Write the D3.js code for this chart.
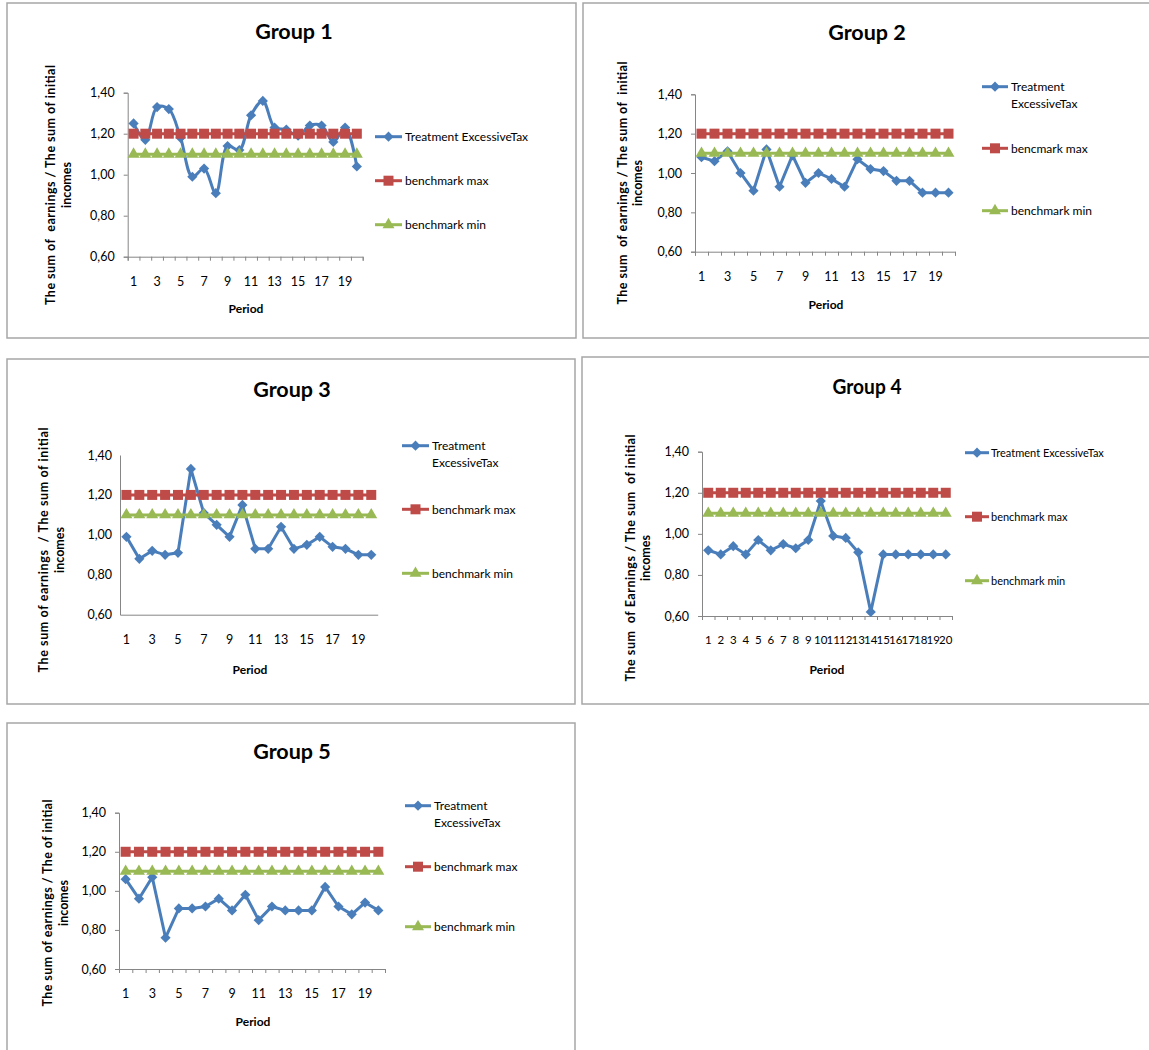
<!DOCTYPE html>
<html>
<head>
  <meta charset="UTF-8">
  <title>Groups 1-5: earnings / initial incomes by period</title>
  <script src="https://d3js.org/d3.v7.min.js"></script>
  <style>
    body { margin: 0; background: #fff; }
    text { font-family: Lato, "Open Sans", sans-serif; fill: #000; }
  </style>
</head>
<body>
<div id="chart"></div>
<script>
// data
const periods = ["1","2","3","4","5","6","7","8","9","10","11","12","13","14","15","16","17","18","19","20"];
const group1 = [1.25,1.17,1.33,1.32,1.18,0.99,1.03,0.91,1.14,1.12,1.29,1.36,1.23,1.22,1.19,1.24,1.24,1.16,1.23,1.04];
const group2 = [1.08,1.06,1.11,1.00,0.91,1.12,0.93,1.09,0.95,1.00,0.97,0.93,1.07,1.02,1.01,0.96,0.96,0.90,0.90,0.90];
const group3 = [0.99,0.88,0.92,0.90,0.91,1.33,1.11,1.05,0.99,1.15,0.93,0.93,1.04,0.93,0.95,0.99,0.94,0.93,0.90,0.90];
const group4 = [0.92,0.90,0.94,0.90,0.97,0.92,0.95,0.93,0.97,1.16,0.99,0.98,0.91,0.62,0.90,0.90,0.90,0.90,0.90,0.90];
const group5 = [1.06,0.96,1.07,0.76,0.91,0.91,0.92,0.96,0.90,0.98,0.85,0.92,0.90,0.90,0.90,1.02,0.92,0.88,0.94,0.90];
const benchmarkMax = [1.20,1.20,1.20,1.20,1.20,1.20,1.20,1.20,1.20,1.20,1.20,1.20,1.20,1.20,1.20,1.20,1.20,1.20,1.20,1.20];
const benchmarkMin = [1.10,1.10,1.10,1.10,1.10,1.10,1.10,1.10,1.10,1.10,1.10,1.10,1.10,1.10,1.10,1.10,1.10,1.10,1.10,1.10];
const yTicks = [0.60,0.80,1.00,1.20,1.40];
const yDomain = [0.60,1.40];

const blue = "#4A7EBB", red = "#BE4B48", green = "#98B954";

// layout of each chart box (pixels)
const panels = [
  { title: "Group 1", values: group1, box: [7,3,569,335], plot: [127.7,362.7,92.7,256.7],
    titlePos: [294,31.7], yTitle: ["The sum of  earnings / The sum of initial","incomes"], yt: [51,67,185], yLen: 240,
    period: [246,309], leg: [375,402,405], legY: [136.7,180.7,224.7],
    legText: [["Treatment ExcessiveTax"],["benchmark max"],["benchmark min"]],
    ticks: true, allLabels: false, smooth: true },
  { title: "Group 2", values: group2, box: [583,3,570,335], plot: [695,955,94.3,251.7],
    titlePos: [867,32.3], yTitle: ["The sum  of earnings / The sum of  initial","incomes"], yt: [623,638,183], yLen: 243,
    period: [826,305], leg: [982,1008,1011], legY: [86.7,148.3,210.7],
    legText: [["Treatment","ExcessiveTax"],["bencmark max"],["benchmark min"]],
    ticks: true, allLabels: false, smooth: false },
  { title: "Group 3", values: group3, box: [7,359,568,345], plot: [120,377.7,455,614.7],
    titlePos: [292,389], yTitle: ["The sum of earnings  / The sum of initial","incomes"], yt: [44,59.5,550], yLen: 245,
    period: [250,670], leg: [402,429,432], legY: [445.7,509.3,573.3],
    legText: [["Treatment","ExcessiveTax"],["benchmark max"],["benchmark min"]],
    ticks: false, allLabels: false, smooth: false },
  { title: "Group 4", values: group4, box: [582,357,570,347], plot: [702,952,451.7,616],
    titlePos: [867,386.7], yTitle: ["The sum  of Earnings / The sum  of initial","incomes"], yt: [631,645.5,558], yLen: 247,
    period: [827,670], leg: [965,989,991], legY: [452.7,516.7,580.7],
    legText: [["Treatment ExcessiveTax"],["benchmark max"],["benchmark min"]],
    ticks: true, allLabels: true, smooth: false, narrow: true },
  { title: "Group 5", values: group5, box: [7,723,568,340], plot: [119,385,812.7,969],
    titlePos: [292,751.7], yTitle: ["The sum of earnings / The of initial","incomes"], yt: [47.6,64,903], yLen: 207,
    period: [253,1021.7], leg: [405,431,434], legY: [805.7,866.7,926.7],
    legText: [["Treatment","ExcessiveTax"],["benchmark max"],["benchmark min"]],
    ticks: true, allLabels: false, smooth: false }
];

const svg = d3.select("#chart").append("svg")
  .attr("width", 1149).attr("height", 1050);

const fmt = d3.formatLocale({ decimal: ",", thousands: ".", grouping: [3], currency: ["", ""] }).format(".2f");

const diamond = d3.symbol(d3.symbolSquare, 52);
const square = d3.symbol(d3.symbolSquare, 100);
const triangle = d3.symbol(d3.symbolTriangle, 62);

function markers(g, data, x, y, bw, path, color, rotate) {
  g.selectAll(null).data(data).enter().append("path")
    .attr("d", path)
    .attr("fill", color)
    .attr("transform", (d, i) => "translate(" + (x(periods[i]) + bw / 2) + "," + y(d) + ")" + (rotate ? " rotate(45)" : ""));
}

panels.forEach(function(p) {
  const g = svg.append("g");

  g.append("rect")
    .attr("x", p.box[0]).attr("y", p.box[1])
    .attr("width", p.box[2]).attr("height", p.box[3])
    .attr("fill", "#fff").attr("stroke", "#a6a6a6").attr("stroke-width", 1.5);

  const x = d3.scaleBand().domain(periods).range([p.plot[0], p.plot[1]]);
  const bw = x.bandwidth();
  const xb = d3.scaleLinear().domain([0, periods.length]).range([p.plot[0], p.plot[1]]);
  const y = d3.scaleLinear().domain(yDomain).range([p.plot[3], p.plot[2]]);
  const tickLen = p.ticks ? 4 : 0;

  // y axis
  const ya = g.append("g")
    .attr("transform", "translate(" + p.plot[0] + ",0)")
    .call(d3.axisLeft(y).tickValues(yTicks).tickFormat(fmt).tickSizeOuter(0)
      .tickSize(tickLen).tickPadding(p.ticks ? 9 : 8));
  ya.selectAll("text").style("font-size", "12.5px").style("font-family", "Lato, sans-serif");

  // x axis line + tick marks between periods
  g.append("g")
    .attr("transform", "translate(0," + p.plot[3] + ")")
    .call(d3.axisBottom(xb).tickValues(d3.range(0, periods.length + 1)).tickFormat("")
      .tickSizeOuter(0).tickSize(tickLen));

  // period labels
  const xl = g.append("g")
    .attr("transform", "translate(0," + p.plot[3] + ")")
    .call(d3.axisBottom(x).tickSize(0).tickPadding(20)
      .tickFormat((d, i) => (p.allLabels || i % 2 === 0) ? d : ""));
  xl.select(".domain").remove();
  xl.selectAll("text").style("font-size", p.narrow ? "11.5px" : "12.5px").style("font-family", "Lato, sans-serif");

  g.selectAll(".domain, .tick line").attr("stroke", "#868686");

  // series
  const line = d3.line()
    .x((d, i) => x(periods[i]) + bw / 2)
    .y(d => y(d));

  g.append("path").datum(p.values)
    .attr("d", line.curve(p.smooth ? d3.curveCatmullRom : d3.curveLinear))
    .attr("fill", "none").attr("stroke", blue).attr("stroke-width", 3);
  markers(g, p.values, x, y, bw, diamond, blue, true);

  line.curve(d3.curveLinear);
  g.append("path").datum(benchmarkMax)
    .attr("d", line).attr("fill", "none").attr("stroke", red).attr("stroke-width", 3);
  markers(g, benchmarkMax, x, y, bw, square, red, false);

  g.append("path").datum(benchmarkMin)
    .attr("d", line).attr("fill", "none").attr("stroke", green).attr("stroke-width", 3);
  markers(g, benchmarkMin, x, y, bw, triangle, green, false);

  // title
  const t = g.append("text")
    .attr("x", p.titlePos[0]).attr("y", p.titlePos[1]).attr("dy", "0.35em")
    .attr("text-anchor", "middle")
    .style("font-size", "21.5px").style("font-weight", "bold")
    .text(p.title);
  if (p.narrow) t.attr("textLength", 69).attr("lengthAdjust", "spacingAndGlyphs");

  // axis titles
  g.append("text")
    .attr("x", p.period[0]).attr("y", p.period[1]).attr("dy", "0.35em")
    .attr("text-anchor", "middle")
    .style("font-size", "12px").style("font-weight", "bold")
    .text("Period");

  p.yTitle.forEach(function(s, k) {
    const yl = g.append("text")
      .attr("transform", "translate(" + p.yt[k] + "," + p.yt[2] + ") rotate(-90)")
      .attr("dy", "0.35em")
      .attr("text-anchor", "middle")
      .style("font-size", "12.5px").style("font-weight", "bold")
      .style("white-space", "pre")
      .text(s);
    if (k === 0) yl.attr("textLength", p.yLen).attr("lengthAdjust", "spacing");
  });

  // legend
  const legend = [
    { color: blue, path: diamond, rotate: true },
    { color: red, path: square, rotate: false },
    { color: green, path: triangle, rotate: false }
  ];
  legend.forEach(function(l, k) {
    const ly = p.legY[k];
    g.append("line")
      .attr("x1", p.leg[0]).attr("x2", p.leg[1]).attr("y1", ly).attr("y2", ly)
      .attr("stroke", l.color).attr("stroke-width", 3);
    g.append("path")
      .attr("d", l.path).attr("fill", l.color)
      .attr("transform", "translate(" + ((p.leg[0] + p.leg[1]) / 2) + "," + ly + ")" + (l.rotate ? " rotate(45)" : ""));
    p.legText[k].forEach(function(s, j) {
      g.append("text")
        .attr("x", p.leg[2]).attr("y", ly + j * 17.3).attr("dy", "0.35em")
        .style("font-size", p.narrow ? "11px" : "12px")
        .text(s);
    });
  });
});
</script>
</body>
</html>
